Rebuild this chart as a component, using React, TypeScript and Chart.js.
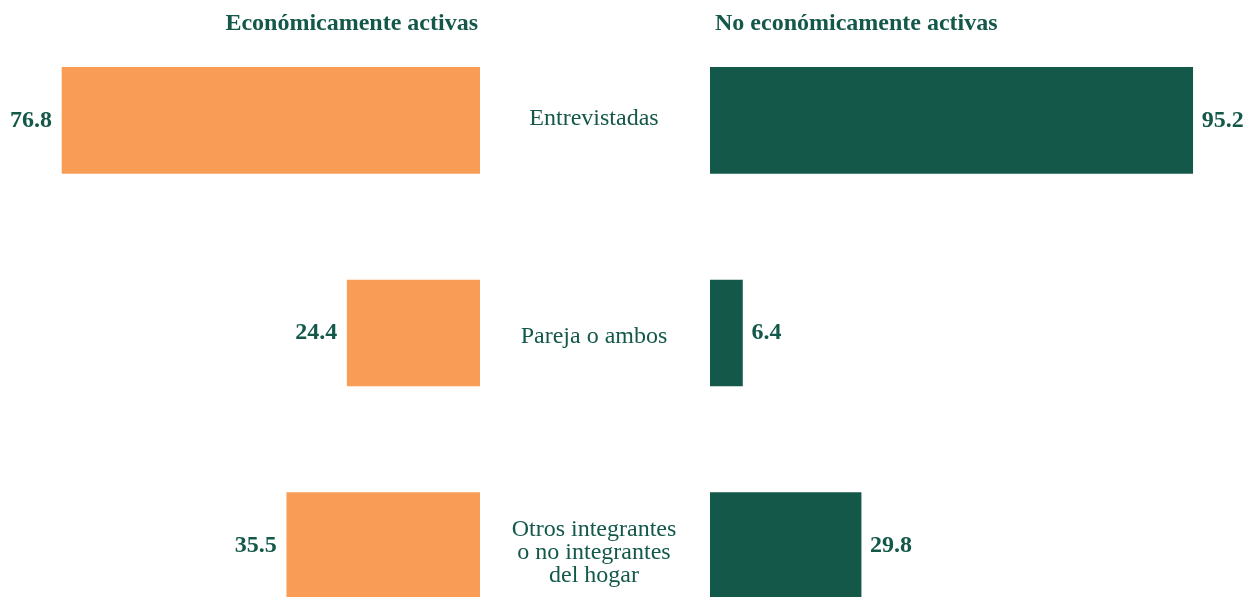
import React, { useEffect, useRef } from "react";
import { Chart, registerables } from "chart.js";

Chart.register(...registerables);

const categories: string[][] = [
  ["Entrevistadas"],
  ["Pareja o ambos"],
  ["Otros integrantes", "o no integrantes", "del hogar"],
];
const activeValues = [76.8, 24.4, 35.5];
const inactiveValues = [95.2, 6.4, 29.8];
const leftTitle = "Económicamente activas";
const rightTitle = "No económicamente activas";

const ORANGE = "#F89C56";
const GREEN = "#135849";
const FONT = "'Liberation Serif', 'Times New Roman', serif";
const LABEL_NUDGE = [-2, 4, 7];

function makePlugin(side: "left" | "right", title: string) {
  return {
    id: "decor_" + side,
    afterDraw(chart: any) {
      const ctx = chart.ctx;
      const area = chart.chartArea;
      const meta = chart.getDatasetMeta(0);
      const ds = chart.data.datasets[0].data as number[];
      ctx.save();
      ctx.fillStyle = GREEN;
      // title
      ctx.font = `bold 24px ${FONT}`;
      ctx.textBaseline = "alphabetic";
      if (side === "left") {
        ctx.textAlign = "right";
        ctx.fillText(title, area.right - 2, 30);
      } else {
        ctx.textAlign = "left";
        ctx.fillText(title, area.left + 5, 30);
      }
      // value labels
      ctx.textBaseline = "middle";
      meta.data.forEach((el: any, i: number) => {
        const txt = ds[i].toFixed(1);
        if (side === "left") {
          ctx.textAlign = "right";
          ctx.fillText(txt, el.x - 10, el.y);
        } else {
          ctx.textAlign = "left";
          ctx.fillText(txt, el.x + 9, el.y);
        }
      });
      // category labels (right chart draws them in the central gap)
      if (side === "right") {
        ctx.font = `24px ${FONT}`;
        ctx.textAlign = "center";
        const yScale = chart.scales.y;
        const lh = 23;
        categories.forEach((lines, i) => {
          const cy = yScale.getPixelForValue(i) + LABEL_NUDGE[i];
          const start = cy - ((lines.length - 1) * lh) / 2;
          lines.forEach((ln, j) => {
            ctx.fillText(ln, area.left - 116, start + j * lh);
          });
        });
      }
      ctx.restore();
    },
  };
}

function makeConfig(side: "left" | "right"): any {
  const values = side === "left" ? activeValues : inactiveValues;
  return {
    type: "bar",
    data: {
      labels: categories.map((c) => c.join(" ")),
      datasets: [
        {
          data: values,
          backgroundColor: side === "left" ? ORANGE : GREEN,
          borderWidth: 0,
          barThickness: 106,
        },
      ],
    },
    options: {
      indexAxis: "y",
      animation: false,
      responsive: true,
      maintainAspectRatio: false,
      layout: {
        padding: { top: 14, bottom: 0, left: side === "left" ? 0 : 230, right: 0 },
      },
      plugins: { legend: { display: false }, tooltip: { enabled: false }, title: { display: false } },
      scales: {
        x: {
          type: "linear",
          display: false,
          min: 0,
          max: side === "left" ? 88.2 : 106.5,
          reverse: side === "left",
        },
        y: { type: "category", display: false, offset: true },
      },
    },
    plugins: [makePlugin(side, side === "left" ? leftTitle : rightTitle)],
  };
}

export default function App() {
  const leftRef = useRef<HTMLCanvasElement>(null);
  const rightRef = useRef<HTMLCanvasElement>(null);

  useEffect(() => {
    const c1 = new Chart(leftRef.current!, makeConfig("left"));
    const c2 = new Chart(rightRef.current!, makeConfig("right"));
    return () => {
      c1.destroy();
      c2.destroy();
    };
  }, []);

  return (
    <div
      style={{
        position: "fixed",
        left: 0,
        top: 0,
        width: 1250,
        height: 597,
        overflow: "hidden",
        background: "#ffffff",
      }}
    >
      <div style={{ position: "absolute", left: 0, top: 0, width: 480, height: 652 }}>
        <canvas ref={leftRef} />
      </div>
      <div style={{ position: "absolute", left: 480, top: 0, width: 770, height: 652 }}>
        <canvas ref={rightRef} />
      </div>
    </div>
  );
}
